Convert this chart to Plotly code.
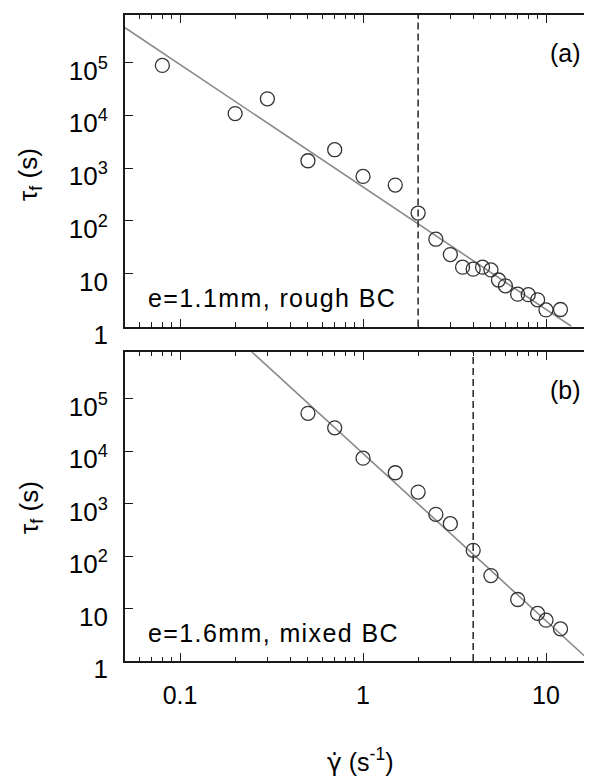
import plotly.graph_objects as go
import math

# ---- data ----
# panel (a): e=1.1mm, rough BC
a_shear = [0.08, 0.2, 0.3, 0.5, 0.7, 1.0, 1.5, 2.0, 2.5, 3.0, 3.5, 4.0, 4.5, 5.0,
           5.5, 6.0, 7.0, 8.0, 9.0, 10.0, 12.0]
a_tau = [8.8e4, 1.08e4, 2.05e4, 1.38e3, 2.23e3, 695, 478, 141, 45, 23, 13.3, 12.2,
         13.3, 11.8, 7.6, 5.9, 4.1, 4.0, 3.2, 2.06, 2.1]
a_fit_x = [0.05, 13.8]
a_fit_y = [4.55e5, 1.0]
a_vline = 2.0

# panel (b): e=1.6mm, mixed BC
b_shear = [0.5, 0.7, 1.0, 1.5, 2.0, 2.5, 3.0, 4.0, 5.0, 7.0, 9.0, 10.0, 12.0]
b_tau = [5.3e4, 2.8e4, 7.4e3, 3.9e3, 1.67e3, 627, 417, 129, 42.6, 14.9, 8.1, 6.0, 4.1]
b_fit_x = [0.247, 17.4]
b_fit_y = [7.83e5, 1.0]
b_vline = 4.0

x_major = [0.1, 1, 10]
x_major_text = ["0.1", "1", "10"]
x_minor = [0.06, 0.07, 0.08, 0.09, 0.2, 0.3, 0.4, 0.5, 0.6, 0.7, 0.8, 0.9,
           2, 3, 4, 5, 6, 7, 8, 9]
y_ticks = [1, 10, 100, 1e3, 1e4, 1e5]
y_text = ["1", "10", "10<sup>2</sup>", "10<sup>3</sup>", "10<sup>4</sup>", "10<sup>5</sup>"]

FONT = "Liberation Sans, Arial, Helvetica, sans-serif"
FS = 25
INK = "#1a1a1a"

# the page body has an 8px default margin; compensate so the plot sits where the reference has it
BODY = 8
W, H = 592 - BODY, 777 - BODY
PL, PT = 125, 15          # plot-area left / top in window pixels
PB = 661                  # plot-area bottom in window pixels
PW = 592 - PL             # plot-area width
PH = PB - PT              # plot-area height

fig = go.Figure()

marker = dict(symbol="circle-open", size=14, color="#333333", line=dict(width=1.3, color="#333333"))

fig.add_trace(go.Scatter(x=a_fit_x, y=a_fit_y, mode="lines", line=dict(color="#8a8a8a", width=1.6),
                         xaxis="x", yaxis="y", showlegend=False, hoverinfo="skip"))
fig.add_trace(go.Scatter(x=a_shear, y=a_tau, mode="markers", marker=marker,
                         xaxis="x", yaxis="y", showlegend=False))
fig.add_trace(go.Scatter(x=b_fit_x, y=b_fit_y, mode="lines", line=dict(color="#8a8a8a", width=1.6),
                         xaxis="x2", yaxis="y2", showlegend=False, hoverinfo="skip"))
fig.add_trace(go.Scatter(x=b_shear, y=b_tau, mode="markers", marker=marker,
                         xaxis="x2", yaxis="y2", showlegend=False))

xrange = [math.log10(0.05), 1.2514]
yrange = [0, 5.9]

def xaxis_cfg(anchor, labels):
    return dict(
        type="log", range=xrange, anchor=anchor,
        showline=True, linecolor=INK, linewidth=1.8, mirror="ticks",
        ticks="inside", ticklen=8, tickwidth=1.4, tickcolor=INK,
        tickvals=x_major, ticktext=x_major_text, showticklabels=labels,
        tickfont=dict(family=FONT, size=FS, color="black"),
        ticklabelstandoff=11,
        minor=dict(ticks="inside", ticklen=4.5, tickwidth=1.2, tickcolor=INK, tickvals=x_minor, showgrid=False),
        showgrid=False, zeroline=False,
    )

def yaxis_cfg(anchor, domain):
    return dict(
        type="log", range=yrange, anchor=anchor, domain=domain,
        showline=True, linecolor=INK, linewidth=1.8, mirror=False,
        ticks="inside", ticklen=8, tickwidth=1.4, tickcolor=INK,
        tickvals=y_ticks, ticktext=y_text,
        tickfont=dict(family=FONT, size=26, color="black"),
        ticklabelstandoff=10, ticklabelshift=8,
        showgrid=False, zeroline=False,
    )

top_dom = [(PB - 326.5) / PH, 1.0]
bot_dom = [0.0, (PB - 351.7) / PH]

fig.update_layout(
    width=W, height=H,
    margin=dict(l=PL - BODY, r=0, t=PT - BODY, b=H + BODY - PB),
    paper_bgcolor="white", plot_bgcolor="white",
    font=dict(family=FONT, size=FS, color="black"),
    xaxis=xaxis_cfg("y", False),
    yaxis=yaxis_cfg("x", top_dom),
    xaxis2=xaxis_cfg("y2", True),
    yaxis2=yaxis_cfg("x2", bot_dom),
)

# dashed vertical markers
fig.add_shape(type="line", xref="x", yref="y domain", x0=a_vline, x1=a_vline, y0=0, y1=1,
              line=dict(color="#333333", width=1.6, dash="7px,4px"))
fig.add_shape(type="line", xref="x2", yref="y2 domain", x0=b_vline, x1=b_vline, y0=0, y1=1,
              line=dict(color="#333333", width=1.6, dash="7px,4px"))

def px_x(px):
    return (px - PL) / PW

def px_y(py):
    return (PB - py) / PH

SP = "<span style=\"letter-spacing:1.4px\">{}</span>"

ann = []
ann.append(dict(text="(a)", xref="paper", yref="paper", x=px_x(565), y=px_y(53),
                xanchor="center", yanchor="middle", showarrow=False, font=dict(size=FS)))
ann.append(dict(text="(b)", xref="paper", yref="paper", x=px_x(565), y=px_y(390),
                xanchor="center", yanchor="middle", showarrow=False, font=dict(size=FS)))
ann.append(dict(text=SP.format("e=1.1mm, rough BC"), xref="paper", yref="paper", x=px_x(146), y=px_y(298),
                xanchor="left", yanchor="middle", showarrow=False, font=dict(size=25)))
ann.append(dict(text=SP.format("e=1.6mm, mixed BC"), xref="paper", yref="paper", x=px_x(146), y=px_y(633),
                xanchor="left", yanchor="middle", showarrow=False, font=dict(size=25)))
ann.append(dict(text="τ<sub>f</sub> (s)", xref="paper", yref="paper", x=px_x(30), y=px_y(175),
                xanchor="center", yanchor="middle", textangle=-90, showarrow=False, font=dict(size=26)))
ann.append(dict(text="τ<sub>f</sub> (s)", xref="paper", yref="paper", x=px_x(30), y=px_y(508),
                xanchor="center", yanchor="middle", textangle=-90, showarrow=False, font=dict(size=26)))
ann.append(dict(text="<span style=\"font-family:DejaVu Sans\">γ\u0307</span> (s<sup>-1</sup>)",
                xref="paper", yref="paper", x=px_x(360), y=px_y(760),
                xanchor="center", yanchor="middle", showarrow=False, font=dict(size=FS)))
fig.update_layout(annotations=ann)

fig.write_html("out.html")
